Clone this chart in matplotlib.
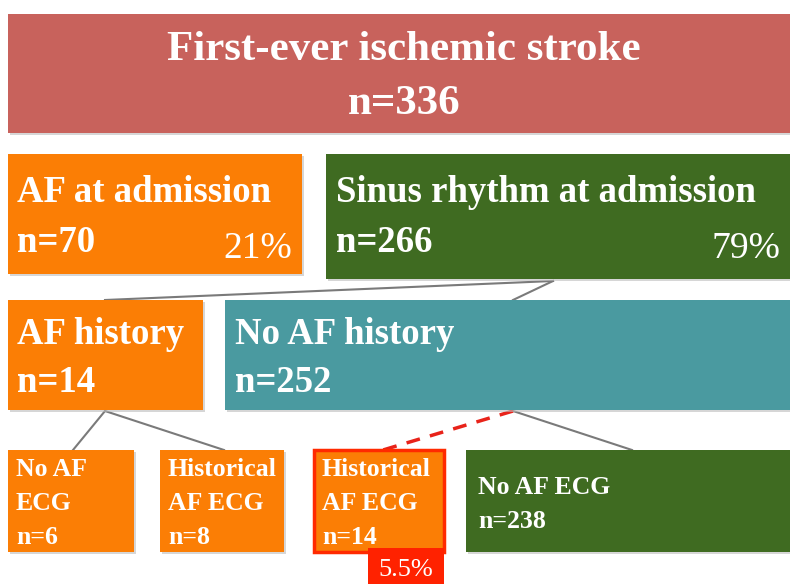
import matplotlib.pyplot as plt
from matplotlib.patches import Rectangle

# node labels / counts
top_label = "First-ever ischemic stroke"
top_n = 336

row2_labels = ["AF at admission", "Sinus rhythm at admission"]
row2_n = [70, 266]
row2_pct = ["21%", "79%"]

row3_labels = ["AF history", "No AF history"]
row3_n = [14, 252]

row4_labels = ["No AF\nECG", "Historical\nAF ECG", "Historical\nAF ECG", "No AF ECG"]
row4_n = [6, 8, 14, 238]
highlight_pct = "5.5%"

RED = "#C8625C"
ORANGE = "#FB7E05"
GREEN = "#3F6B21"
TEAL = "#4A9AA0"
FONT = "Liberation Serif"

fig = plt.figure(figsize=(7.9, 5.84), dpi=100)
ax = fig.add_axes([0, 0, 1, 1])
ax.set_xlim(0, 790)
ax.set_ylim(584, 0)
ax.axis("off")


def box(x0, y0, x1, y1, color, edge=None, lw=0):
    ax.add_patch(Rectangle((x0 + 2, y0 + 2), x1 - x0, y1 - y0, facecolor="#bbbbbb",
                           edgecolor="none", alpha=0.6, zorder=1))
    ax.add_patch(Rectangle((x0, y0), x1 - x0, y1 - y0, facecolor=color,
                           edgecolor=edge if edge else "none", linewidth=lw, zorder=2))


def txt(x, y, s, size, ha="left", weight="bold", **kw):
    ax.text(x, y, s, fontsize=size, ha=ha, va="center", color="white",
            family=FONT, weight=weight, zorder=5, **kw)


# connectors
grey = dict(color="#7a7a7a", lw=1.5, zorder=0)
ax.plot([553, 105], [281, 300], **grey)
ax.plot([553, 513], [281, 300], **grey)
ax.plot([105, 73], [411, 450], **grey)
ax.plot([105, 224], [411, 450], **grey)
ax.plot([513, 632], [411, 450], **grey)
ax.plot([513, 383], [411, 450], color="#E8231A", lw=2.5, ls=(0, (4, 3)), zorder=0)

# top
box(8, 14, 792, 133, RED)
txt(404, 50, top_label, 31, ha="center")
txt(404, 104, f"n={top_n}", 31, ha="center")

# row 2
box(8, 154, 302, 274, ORANGE)
box(326, 154, 792, 279, GREEN)
for x, xr, lab, n, p in zip([17, 336], [292, 780], row2_labels, row2_n, row2_pct):
    txt(x, 192, lab, 26.5)
    txt(x, 243, f"n={n}", 26.5)
    txt(xr, 249, p, 27, ha="right", weight="normal")

# row 3
box(8, 300, 203, 410, ORANGE)
box(225, 300, 792, 410, TEAL)
for x, lab, n in zip([17, 235], row3_labels, row3_n):
    txt(x, 335, lab, 26.5)
    txt(x, 383, f"n={n}", 26.5)

# row 4
row4_x = [(8, 134), (160, 284), (314, 444), (466, 792)]
row4_col = [ORANGE, ORANGE, ORANGE, GREEN]
for i, ((x0, x1), col, lab, n) in enumerate(zip(row4_x, row4_col, row4_labels, row4_n)):
    if i == 2:
        box(x0, 450, x1, 552, col, edge="#FF2A00", lw=2.5)
    else:
        box(x0, 450, x1, 552, col)
    if "\n" in lab:
        l1, l2 = lab.split("\n")
        txt(x0 + 8, 470, l1, 18.5)
        txt(x0 + 8, 503, l2, 18.5)
        txt(x0 + 8, 537, f"n={n}", 18.5)
    else:
        txt(x0 + 12, 488, lab, 18.5)
        txt(x0 + 12, 521, f"n={n}", 18.5)

ax.add_patch(Rectangle((368, 548), 76, 40, facecolor="#FF2200", edgecolor="none", zorder=6))
ax.text(406, 570, highlight_pct, fontsize=19, ha="center", va="center", color="white",
        family=FONT, zorder=7)

fig.savefig("out.png", dpi=100)
